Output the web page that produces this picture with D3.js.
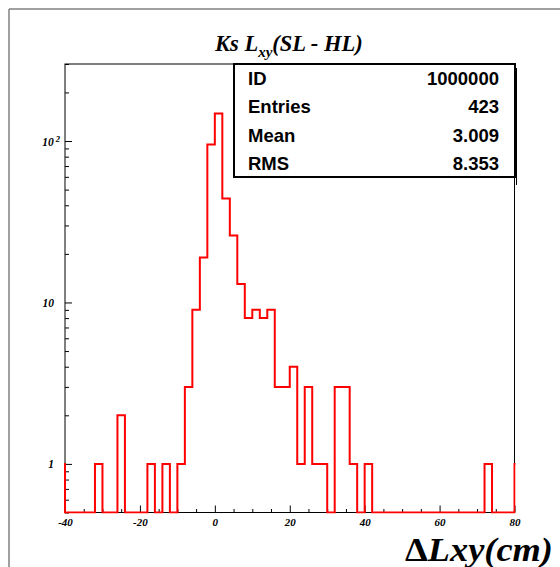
<!DOCTYPE html>
<html>
<head>
<meta charset="utf-8">
<script src="https://cdn.jsdelivr.net/npm/d3@7"></script>
<style>
  html, body { margin: 0; padding: 0; background: #fff; }
  svg { display: block; }
</style>
</head>
<body>
<script>
// ---- data ----
const binStart = -40;          // first bin lower edge
const binWidth = 2;            // bin width in cm
const counts = [
  0, 0, 0, 0, 1, 0, 0, 2, 0, 0,
  0, 1, 0, 1, 0, 1, 3, 9, 19, 95,
  148, 44, 26, 13, 8, 9, 8, 9, 3, 3,
  4, 1, 3, 1, 1, 0, 3, 3, 1, 0,
  1, 0, 0, 0, 0, 0, 0, 0, 0, 0,
  0, 0, 0, 0, 0, 0, 1, 0, 0, 0
];
const underflow = 1;
const overflow = 1;
const xDomain = [-40, 80];
const yDomain = [0.5, 300];
const xMajorTicks = [-40, -20, 0, 20, 40, 60, 80];
const yMajorTicks = [1, 10, 100];
const yTickLabels = ["1", "10", "10|2"];
const statsLabels = ["ID", "Entries", "Mean", "RMS"];
const statsValues = ["1000000", "423", "3.009", "8.353"];
const titleParts = ["Ks L", "xy", "(SL - HL)"];
const xTitleParts = ["\u0394", "Lxy(cm)"];

// ---- layout ----
const W = 560, H = 567;
const frame = { left: 65, right: 514.5, top: 64, bottom: 512.5 };

const svg = d3.select("body").append("svg").attr("width", W).attr("height", H);

// outer pad border (grey)
svg.append("line").attr("x1", 9).attr("y1", 9).attr("x2", W).attr("y2", 9)
  .attr("stroke", "#808080").attr("stroke-width", 1.5);
svg.append("line").attr("x1", 9).attr("y1", 9).attr("x2", 9).attr("y2", H)
  .attr("stroke", "#808080").attr("stroke-width", 1.5);

const x = d3.scaleLinear().domain(xDomain).range([frame.left, frame.right]);
const y = d3.scaleLog().domain(yDomain).range([frame.bottom, frame.top]);

// clip (slightly wider than the frame so the edge lines show, as in ROOT)
svg.append("defs").append("clipPath").attr("id", "clip")
  .append("rect").attr("x", frame.left - 1).attr("y", frame.top)
  .attr("width", frame.right - frame.left + 2).attr("height", frame.bottom - frame.top + 1);

// frame
svg.append("rect").attr("x", frame.left).attr("y", frame.top)
  .attr("width", frame.right - frame.left).attr("height", frame.bottom - frame.top)
  .attr("fill", "none").attr("stroke", "#000").attr("stroke-width", 1);

// histogram bins including under/overflow
const bins = [];
bins.push({ x0: binStart - binWidth, x1: binStart, v: underflow });
counts.forEach((c, i) => bins.push({ x0: binStart + i * binWidth, x1: binStart + (i + 1) * binWidth, v: c }));
bins.push({ x0: xDomain[1], x1: xDomain[1] + binWidth, v: overflow });

const yv = v => (v > 0 ? y(v) : y(yDomain[0]));
const pts = [[bins[0].x0, 0]];
bins.forEach(b => { pts.push([b.x0, b.v]); pts.push([b.x1, b.v]); });
pts.push([bins[bins.length - 1].x1, 0]);

const serifBI = "'Liberation Serif', 'Times New Roman', serif";

// x axis
const xMinor = d3.range(xDomain[0], xDomain[1] + 0.1, 5).filter(v => xMajorTicks.indexOf(v) < 0);
const gxMinor = svg.append("g").attr("transform", `translate(0,${frame.bottom})`)
  .call(d3.axisBottom(x).tickValues(xMinor).tickSize(-3.5).tickFormat(""));
const gx = svg.append("g").attr("transform", `translate(0,${frame.bottom})`)
  .call(d3.axisBottom(x).tickValues(xMajorTicks).tickSize(-7).tickPadding(6).tickFormat(d3.format("d")));
[gx, gxMinor].forEach(g => {
  g.select(".domain").remove();
  g.selectAll(".tick line").attr("stroke", "#000");
});
gx.selectAll(".tick text").attr("font-family", serifBI).attr("font-weight", "bold")
  .attr("font-style", "italic").attr("font-size", 11).attr("fill", "#000")
  .text(d => d < 0 ? "-" + Math.abs(d) : String(d));

// y axis
const yMinor = [];
[0.1, 1, 10, 100].forEach(dec => {
  for (let k = 2; k <= 9; k++) {
    const v = k * dec;
    if (v >= yDomain[0] && v <= yDomain[1]) yMinor.push(v);
  }
});
const gyMinor = svg.append("g").attr("transform", `translate(${frame.left},0)`)
  .call(d3.axisLeft(y).tickValues(yMinor).tickSize(-4).tickFormat(""));
const gy = svg.append("g").attr("transform", `translate(${frame.left},0)`)
  .call(d3.axisLeft(y).tickValues(yMajorTicks).tickSize(-7).tickPadding(11).tickFormat(""));
[gy, gyMinor].forEach(g => {
  g.select(".domain").remove();
  g.selectAll(".tick line").attr("stroke", "#000");
});
gy.selectAll(".tick").each(function (d, i) {
  const parts = yTickLabels[i].split("|");
  const t = d3.select(this).select("text")
    .attr("font-family", serifBI).attr("font-weight", "bold").attr("font-style", "italic")
    .attr("font-size", 11.5).attr("fill", "#000").attr("dy", "0.35em")
    .attr("x", parts.length > 1 ? -5 : -11).text(null);
  t.append("tspan").text(parts[0]);
  if (parts.length > 1) {
    t.append("tspan").attr("dy", "-0.45em").attr("dx", "2").attr("font-size", 8.5).text(parts[1]);
  }
});

// histogram outline drawn on top of the frame
const line = d3.line().x(d => x(d[0])).y(d => yv(d[1]));
svg.append("path").attr("d", line(pts)).attr("fill", "none")
  .attr("stroke", "#ff0000").attr("stroke-width", 2).attr("clip-path", "url(#clip)");

// title
const title = svg.append("text").attr("x", 215).attr("y", 51)
  .attr("font-family", serifBI).attr("font-weight", "bold").attr("font-style", "italic")
  .attr("font-size", 22.5).attr("fill", "#000");
title.append("tspan").text(titleParts[0]);
title.append("tspan").attr("dy", 6).attr("font-size", 15).text(titleParts[1]);
title.append("tspan").attr("dy", -6).text(titleParts[2]);

// stats box
const box = { x: 234, y: 64, w: 281, h: 113 };
svg.append("line").attr("x1", box.x + box.w + 1.5).attr("y1", box.y + 4)
  .attr("x2", box.x + box.w + 1.5).attr("y2", box.y + box.h + 8)
  .attr("stroke", "#000").attr("stroke-width", 1);
svg.append("rect").attr("x", box.x).attr("y", box.y).attr("width", box.w).attr("height", box.h)
  .attr("fill", "#fff").attr("stroke", "#000").attr("stroke-width", 2);
const rowY = [85, 113.3, 141.7, 170];
const sansB = "'Liberation Sans', Arial, Helvetica, sans-serif";
statsLabels.forEach((l, i) => {
  svg.append("text").attr("x", 248).attr("y", rowY[i]).attr("font-family", sansB)
    .attr("font-weight", "bold").attr("font-size", 18.5).attr("fill", "#000").text(l);
  svg.append("text").attr("x", 499).attr("y", rowY[i]).attr("text-anchor", "end")
    .attr("font-family", sansB).attr("font-weight", "bold").attr("font-size", 18.5)
    .attr("fill", "#000").text(statsValues[i]);
});

// x axis title (upright Delta, bold italic rest)
const xt = svg.append("text").attr("x", 553).attr("y", 561).attr("text-anchor", "end")
  .attr("font-family", serifBI).attr("font-weight", "bold")
  .attr("font-size", 34).attr("fill", "#000")
  .attr("textLength", 148).attr("lengthAdjust", "spacingAndGlyphs");
xt.append("tspan").attr("font-style", "normal").text(xTitleParts[0]);
xt.append("tspan").attr("font-style", "italic").text(xTitleParts[1]);
</script>
</body>
</html>
